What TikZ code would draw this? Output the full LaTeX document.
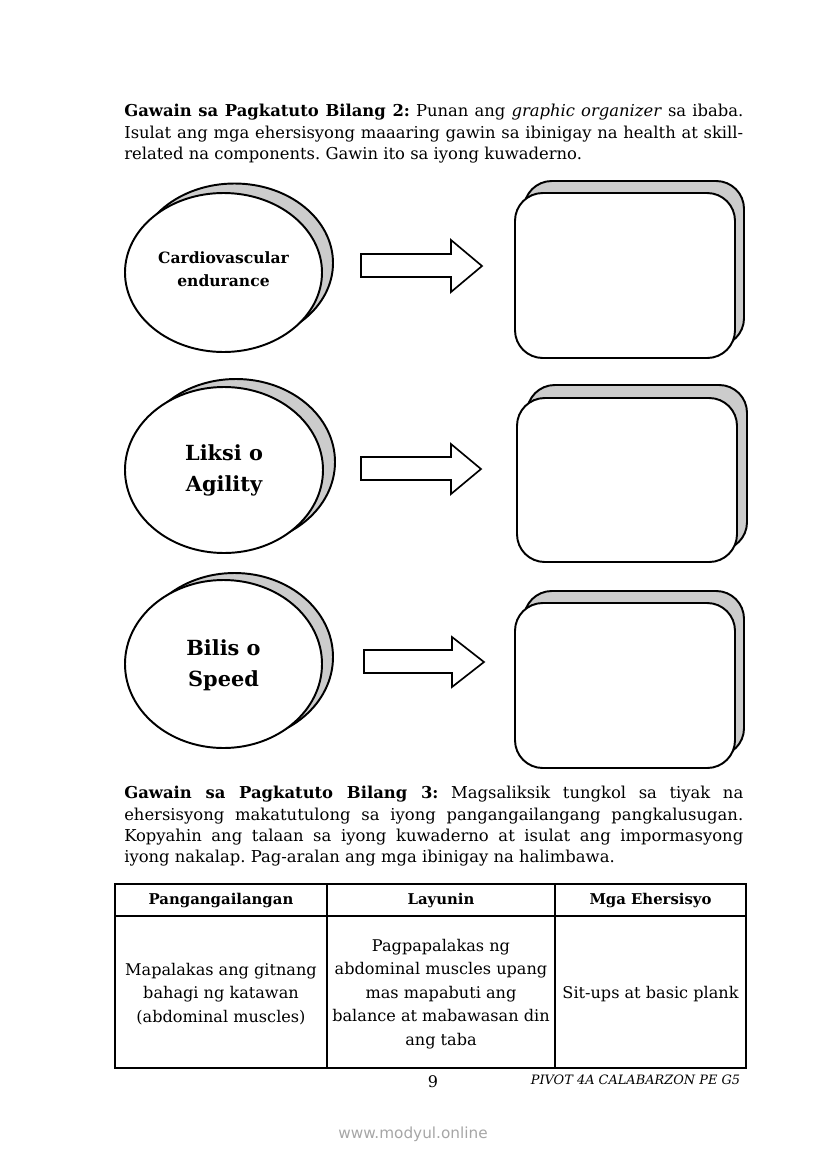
\documentclass[tikz,border=0pt]{standalone}
\usepackage{fontspec}
\setmainfont{DejaVu Serif}
\newfontfamily\webfont{DejaVu Sans}
\frenchspacing
\tikzset{
  backshape/.style={draw, fill=black!20, line width=1.4pt},
  frontshape/.style={draw, fill=white, line width=1.4pt},
  blockarrow/.style={draw, fill=white, line width=1.2pt, line join=miter},
  bodytext/.style={anchor=north west, inner sep=0pt, text width=445.7pt, align=justify, font=\fontsize{11.8}{15.4}\selectfont},
  ovaltext/.style={align=center, font=\fontsize{15}{22}\selectfont\bfseries},
  cellhead/.style={font=\fontsize{10.7}{12}\selectfont\bfseries},
  cellbody/.style={align=center, font=\fontsize{11.6}{17}\selectfont}
}
\begin{document}
\begin{tikzpicture}[x=0.72pt,y=-0.72pt]
\useasboundingbox (0,0) rectangle (826,1169);

\node[bodytext] (intro) at (124,104) {\textbf{Gawain sa Pagkatuto Bilang 2:} Punan ang \textit{graphic organizer} sa ibaba.\linebreak
Isulat ang mga ehersisyong maaaring gawin sa ibinigay na health at skill-\linebreak
related na components. Gawin ito sa iyong kuwaderno.};

% ovals
\draw[backshape] (234.5,263) ellipse [x radius=98.5, y radius=79.5];
\draw[frontshape] (223.5,272.5) ellipse [x radius=98.5, y radius=79.5];
\draw[backshape] (236,462) ellipse [x radius=99, y radius=83];
\draw[frontshape] (224,470) ellipse [x radius=99, y radius=83];
\draw[backshape] (234.5,657) ellipse [x radius=98.5, y radius=84];
\draw[frontshape] (223.5,664) ellipse [x radius=98.5, y radius=84];

\node[align=center, font=\fontsize{11.2}{16.5}\selectfont\bfseries] (cardio) at (223.5,269.5) {Cardiovascular\\endurance};
\node[ovaltext] (agility) at (224,470.5) {Liksi o\\Agility};
\node[ovaltext] (speed) at (223.5,665.5) {Bilis o\\Speed};

% arrows
\draw[blockarrow] (361,254) -- (451,254) -- (451,240) -- (482,266) -- (451,292) -- (451,277) -- (361,277) -- cycle;
\draw[blockarrow] (361,457) -- (451,457) -- (451,444) -- (481,469) -- (451,494) -- (451,480) -- (361,480) -- cycle;
\draw[blockarrow] (364,650) -- (452,650) -- (452,637) -- (484,662) -- (452,687) -- (452,673) -- (364,673) -- cycle;

% answer boxes
\draw[backshape, rounded corners=20pt] (524,181) rectangle (744,346);
\draw[frontshape, rounded corners=20pt] (515,193) rectangle (735,358);
\draw[backshape, rounded corners=20pt] (527,385) rectangle (747,550);
\draw[frontshape, rounded corners=20pt] (517,398) rectangle (737,562);
\draw[backshape, rounded corners=20pt] (524,591) rectangle (744,756);
\draw[frontshape, rounded corners=20pt] (515,603) rectangle (735,768);

\node[bodytext] (task) at (124,786) {\textbf{Gawain sa Pagkatuto Bilang 3:} Magsaliksik tungkol sa tiyak na\linebreak
ehersisyong makatutulong sa iyong pangangailangang pangkalusugan.\linebreak
Kopyahin ang talaan sa iyong kuwaderno at isulat ang impormasyong\linebreak
iyong nakalap. Pag-aralan ang mga ibinigay na halimbawa.};

% table
\draw[line width=0.8pt] (115,884) rectangle (746,1068);
\draw[line width=0.8pt] (115,916) -- (746,916);
\draw[line width=0.8pt] (327,884) -- (327,1068);
\draw[line width=0.8pt] (555,884) -- (555,1068);

\node[cellhead] (headneed) at (221,900) {Pangangailangan};
\node[cellhead] (headgoal) at (441,900) {Layunin};
\node[cellhead] (headexer) at (650.5,900) {Mga Ehersisyo};

\node[cellbody] (need) at (221,994) {Mapalakas ang gitnang\\bahagi ng katawan\\(abdominal muscles)};
\node[cellbody] (goal) at (441,994) {Pagpapalakas ng\\abdominal muscles upang\\mas mapabuti ang\\balance at mabawasan din\\ang taba};
\node[cellbody] (exer) at (650.5,994) {Sit-ups at basic plank};

% footer
\node[font=\fontsize{11.5}{13}\selectfont] (pageno) at (433,1082) {9};
\node[anchor=east, font=\fontsize{9.3}{11}\selectfont\itshape] (series) at (745,1080) {PIVOT 4A CALABARZON PE G5};
\node[font=\fontsize{11}{13}\selectfont\webfont, text=black!35] (site) at (413,1134) {www.modyul.online};
\end{tikzpicture}
\end{document}
